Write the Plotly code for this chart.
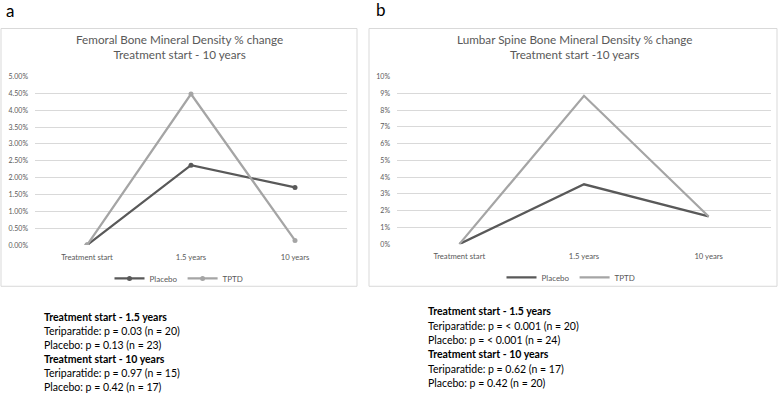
import plotly.graph_objects as go

categories = ["Treatment start", "1.5 years", "10 years"]
fem_placebo = [0.0, 0.0237, 0.0171]
fem_tptd = [0.0, 0.0448, 0.0014]
lum_placebo = [0.0, 0.0357, 0.0166]
lum_tptd = [0.0, 0.0885, 0.0165]
fem_ticks = [0, 0.005, 0.01, 0.015, 0.02, 0.025, 0.03, 0.035, 0.04, 0.045, 0.05]
lum_ticks = [0, 0.01, 0.02, 0.03, 0.04, 0.05, 0.06, 0.07, 0.08, 0.09, 0.10]

left_text = [
    "<b>Treatment start - 1.5 years</b>",
    "Teriparatide: p = 0.03 (n = 20)",
    "Placebo: p = 0.13 (n = 23)",
    "<b>Treatment start - 10 years</b>",
    "Teriparatide: p = 0.97 (n = 15)",
    "Placebo: p = 0.42 (n = 17)",
]
right_text = [
    "<b>Treatment start - 1.5 years</b>",
    "Teriparatide: p = < 0.001 (n = 20)",
    "Placebo: p = < 0.001 (n = 24)",
    "<b>Treatment start - 10 years</b>",
    "Teriparatide: p = 0.62 (n = 17)",
    "Placebo: p = 0.42 (n = 20)",
]

W, H = 778, 401
FONT = "Lato"
DARK = "#595959"
LIGHT = "#a5a5a5"
GRID = "#d9d9d9"

def px(x):
    return x / W

def py(y):
    return 1 - y / H

fig = go.Figure()

fig.add_trace(go.Scatter(x=categories, y=fem_placebo, name="Placebo", mode="lines+markers",
                         line=dict(color=DARK, width=2.25), marker=dict(size=5, color=DARK),
                         xaxis="x", yaxis="y", legend="legend"))
fig.add_trace(go.Scatter(x=categories, y=fem_tptd, name="TPTD", mode="lines+markers",
                         line=dict(color=LIGHT, width=2.25), marker=dict(size=5, color=LIGHT),
                         xaxis="x", yaxis="y", legend="legend"))
fig.add_trace(go.Scatter(x=categories, y=lum_placebo, name="Placebo", mode="lines",
                         line=dict(color=DARK, width=2.25),
                         xaxis="x2", yaxis="y2", legend="legend2"))
fig.add_trace(go.Scatter(x=categories, y=lum_tptd, name="TPTD", mode="lines",
                         line=dict(color=LIGHT, width=2.25),
                         xaxis="x2", yaxis="y2", legend="legend2"))

ytick_font = dict(family=FONT, size=7, color=DARK)
xtick_font = dict(family=FONT, size=7.7, color=DARK)

fig.update_layout(
    width=W, height=H,
    margin=dict(l=0, r=0, t=0, b=0),
    paper_bgcolor="white", plot_bgcolor="white",
    font=dict(family=FONT, color=DARK),
    xaxis=dict(domain=[px(35), px(347)], range=[-0.5, 2.5], showgrid=False, showline=False,
               zeroline=False, tickfont=xtick_font, ticks="", anchor="y", ticklabelstandoff=6),
    yaxis=dict(domain=[py(245), py(73)], range=[0, 0.05], tickvals=fem_ticks, tickformat=".2%",
               showgrid=True, gridcolor=GRID, gridwidth=1, zeroline=False, showline=False,
               tickfont=ytick_font, ticks="", anchor="x", ticklabelstandoff=6),
    xaxis2=dict(domain=[px(397), px(771)], range=[-0.5, 2.5], showgrid=False, showline=False,
                zeroline=False, tickfont=xtick_font, ticks="", anchor="y2", ticklabelstandoff=6),
    yaxis2=dict(domain=[py(244), py(73)], range=[0, 0.10], tickvals=lum_ticks, tickformat=".0%",
                showgrid=True, gridcolor=GRID, gridwidth=1, zeroline=False, showline=False,
                tickfont=ytick_font, ticks="", anchor="x2", ticklabelstandoff=6),
    legend=dict(orientation="h", x=px(179), y=py(279), xanchor="center", yanchor="middle",
                font=dict(family=FONT, size=8, color=DARK), itemwidth=30, bgcolor="rgba(0,0,0,0)"),
    legend2=dict(orientation="h", x=px(571), y=py(278), xanchor="center", yanchor="middle",
                 font=dict(family=FONT, size=8, color=DARK), itemwidth=30, bgcolor="rgba(0,0,0,0)"),
    showlegend=True,
)

# panel borders
fig.add_shape(type="rect", xref="paper", yref="paper", x0=px(1), x1=px(357), y0=py(287), y1=py(24),
              line=dict(color=GRID, width=1), layer="below")
fig.add_shape(type="rect", xref="paper", yref="paper", x0=px(369), x1=px(777), y0=py(287), y1=py(24),
              line=dict(color=GRID, width=1), layer="below")

annotations = []
annotations.append(dict(text="a", x=px(4), y=py(6), xanchor="left", yanchor="middle",
                        font=dict(family=FONT, size=17, color="black")))
annotations.append(dict(text="b", x=px(374), y=py(5), xanchor="left", yanchor="middle",
                        font=dict(family=FONT, size=17, color="black")))
annotations.append(dict(text="Femoral Bone Mineral Density % change<br>Treatment start - 10 years",
                        x=px(179), y=py(42), xanchor="center", yanchor="middle",
                        font=dict(family=FONT, size=11.7, color=DARK)))
annotations.append(dict(text="Lumbar Spine Bone Mineral Density % change<br>Treatment start -10 years",
                        x=px(574), y=py(42), xanchor="center", yanchor="middle",
                        font=dict(family=FONT, size=11.7, color=DARK)))

for i, t in enumerate(left_text):
    annotations.append(dict(text=t, x=px(42), y=py(318 + i * 14.4), xanchor="left", yanchor="middle",
                            font=dict(family=FONT, size=10.5, color="black")))
for i, t in enumerate(right_text):
    annotations.append(dict(text=t, x=px(426), y=py(312.5 + i * 14.7), xanchor="left", yanchor="middle",
                            font=dict(family=FONT, size=10.5, color="black")))

for a in annotations:
    a.update(xref="paper", yref="paper", showarrow=False)
fig.update_layout(annotations=annotations)

fig.write_html("out.html", config={"displayModeBar": False},
               post_script="document.body.style.margin='0';document.body.style.overflow='hidden';")
